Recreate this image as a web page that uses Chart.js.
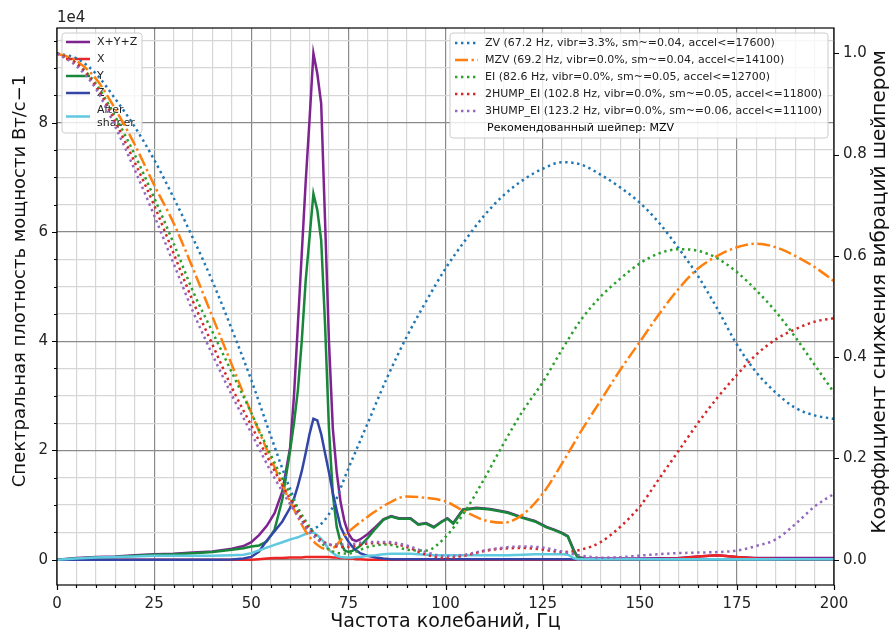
<!DOCTYPE html>
<html>
<head>
<meta charset="utf-8">
<script src="https://cdn.jsdelivr.net/npm/chart.js@4.4.1/dist/chart.umd.min.js"></script>
<style>
  html, body { margin: 0; padding: 0; background: #fff; }
  #wrap { width: 895px; height: 634px; }
</style>
</head>
<body>
<div id="wrap"><canvas id="psd" width="895" height="634"></canvas></div>
<script>
// частоты спектра, Гц
const freqs = [0, 5, 10, 15, 20, 25, 30, 35, 40, 45,
  48, 50, 52, 54, 56, 58, 60, 61, 62, 63,
  64, 65, 66, 67, 68, 69, 70, 71, 72, 73,
  74, 75, 76, 77, 78, 80, 82, 84, 86, 88,
  91, 93, 95, 97, 99, 100.5, 102, 104.5, 108, 111.5,
  116, 120, 123, 126, 128, 130, 131.5, 133, 134, 136,
  140, 150, 160, 165, 170, 175, 180, 190, 200];

// PSD, x1e4
const psdXYZ = [0, .03, .05, .06, .08, .1, .11, .13, .15, .2,
  .25, .32, .45, .62, .85, 1.25, 2.05, 3.0, 4.3, 5.6,
  6.9, 8.05, 9.27, 8.9, 8.35, 6.2, 4.0, 2.4, 1.6, 1.05,
  .7, .48, .37, .34, .37, .47, .6, .74, .8, .76,
  .76, .65, .67, .6, .7, .76, .67, .92, .95, .93,
  .87, .77, .71, .6, .55, .49, .43, .18, .05, .02,
  .02, .02, .03, .06, .08, .05, .03, .03, .03];
const psdX = [0, 0, 0, 0, 0, 0, 0, 0, 0, 0,
  0, 0, .01, .02, .03, .03, .04, .04, .04, .04,
  .05, .05, .05, .05, .05, .05, .05, .04, .04, .03,
  .03, .02, .02, .01, .01, 0, 0, 0, 0, 0,
  0, 0, 0, 0, 0, 0, 0, 0, 0, 0,
  0, 0, 0, 0, 0, 0, 0, 0, 0, 0,
  0, 0, .02, .06, .08, .05, .02, 0, 0];
const psdY = [0, .02, .04, .05, .07, .09, .1, .12, .14, .18,
  .21, .24, .26, .33, .55, 1.1, 2.0, 2.5, 3.1, 4.0,
  5.1, 5.9, 6.7, 6.4, 5.85, 4.3, 2.4, 1.2, .6, .32,
  .17, .14, .16, .2, .25, .4, .57, .73, .79, .75,
  .75, .64, .66, .59, .69, .75, .66, .91, .94, .92,
  .86, .76, .7, .59, .54, .48, .42, .16, .04, .01,
  .01, .01, .01, .01, .01, .01, .01, .01, .01];
const psdZ = [0, 0, 0, 0, 0, 0, 0, 0, 0, .005,
  .02, .05, .15, .35, .52, .7, .95, 1.12, 1.35, 1.62,
  1.95, 2.3, 2.58, 2.55, 2.3, 1.95, 1.6, 1.22, .9, .6,
  .45, .33, .24, .17, .12, .07, .04, .02, .01, .01,
  .01, .01, .01, .01, .01, .01, .01, .01, .01, .01,
  .01, .01, .01, .01, .01, .01, .01, .01, .01, .01,
  .01, .01, .01, .01, .01, .01, .01, .01, .01];
const psdAfter = [0, .02, .04, .05, .06, .07, .07, .07, .07, .08,
  .09, .12, .17, .22, .27, .32, .37, .39, .41, .44,
  .47, .49, .5, .45, .38, .3, .18, .12, .07, .05,
  .04, .04, .04, .05, .05, .07, .08, .1, .11, .11,
  .11, .1, .09, .08, .08, .08, .08, .08, .08, .08,
  .08, .09, .1, .1, .1, .1, .09, .03, .01, .01,
  .01, .01, .01, .01, .01, .01, .01, .01, .01];

const psdLabels = ['X+Y+Z', 'X', 'Y', 'Z', 'After\nshaper'];
const psdColors = ['#7e2390', '#ec2424', '#19873a', '#3346a8', '#5fc9df'];

// отклик шейперов
const shaperFreqs = [0, 5, 10, 15, 20, 25, 30, 35, 40, 45,
  50, 55, 60, 65, 70, 75, 80, 85, 90, 95,
  100, 105, 110, 115, 120, 125, 130, 135, 140, 145,
  150, 155, 160, 165, 170, 175, 180, 185, 190, 195, 200];
const zv = [1.0, .99, .96, .91, .855, .79, .715, .635, .55, .455,
  .355, .245, .14, .06, .09, .18, .27, .36, .44, .51,
  .575, .63, .68, .72, .75, .772, .785, .78, .76, .735,
  .705, .665, .615, .56, .495, .425, .37, .33, .30, .285, .278];
const mzv = [1.0, .985, .95, .89, .82, .74, .665, .575, .48, .385,
  .29, .2, .115, .045, .02, .055, .085, .11, .125, .122,
  .115, .095, .078, .073, .09, .13, .19, .255, .315, .375,
  .43, .485, .535, .575, .6, .617, .624, .617, .6, .578, .55];
const ei = [1.0, .98, .94, .875, .80, .715, .625, .53, .45, .37,
  .29, .207, .13, .065, .02, .012, .025, .03, .02, .018,
  .045, .095, .16, .23, .295, .35, .415, .475, .52, .555,
  .585, .605, .613, .61, .595, .568, .532, .49, .44, .385, .33];
const hump2 = [1.0, .98, .935, .865, .785, .70, .605, .51, .425, .34,
  .265, .19, .12, .06, .03, .025, .032, .033, .025, .01,
  .003, .008, .017, .022, .023, .02, .015, .02, .035, .065,
  .105, .16, .215, .27, .32, .365, .405, .435, .455, .47, .477];
const hump3 = [1.0, .975, .93, .855, .77, .68, .585, .49, .405, .325,
  .25, .175, .11, .055, .03, .03, .035, .035, .028, .015,
  .007, .01, .018, .024, .026, .024, .016, .008, .004, .005,
  .008, .011, .013, .014, .015, .018, .027, .04, .07, .105, .13];

const shaperLabels = [
  'ZV (67.2 Hz, vibr=3.3%, sm~=0.04, accel<=17600)',
  'MZV (69.2 Hz, vibr=0.0%, sm~=0.04, accel<=14100)',
  'EI (82.6 Hz, vibr=0.0%, sm~=0.05, accel<=12700)',
  '2HUMP_EI (102.8 Hz, vibr=0.0%, sm~=0.05, accel<=11800)',
  '3HUMP_EI (123.2 Hz, vibr=0.0%, sm~=0.06, accel<=11100)'];
const shaperColors = ['#1f77b4', '#ff7f0e', '#2ca02c', '#d62728', '#9467bd'];
const recommended = 'Рекомендованный шейпер: MZV';

// подписи осей
const xTicks = [0, 25, 50, 75, 100, 125, 150, 175, 200];
const yTicks = [0, 2, 4, 6, 8];
const y2Ticks = [0, 0.2, 0.4, 0.6, 0.8, 1.0];
const psdMax = 9.27;
const yTitle = 'Спектральная плотность мощности Вт/с−1';
const y2Title = 'Коэффициент снижения вибраций шейпером';

const xMinor = [];
for (let f = 0; f <= 200; f += 5) xMinor.push(f);
const yMinor = [];
for (let v = 0; v <= 9.5; v += 0.5) yMinor.push(v);

const dotted = [2.4, 3.6];
const dashdot = [13, 3.5, 2.4, 3.5];

const psdSeries = [psdXYZ, psdX, psdY, psdZ, psdAfter];
const shaperSeries = [zv, mzv, ei, hump2, hump3];

const datasets = [];
psdSeries.forEach((arr, i) => {
  datasets.push({
    label: psdLabels[i],
    data: freqs.map((f, k) => ({ x: f, y: arr[k] })),
    borderColor: psdColors[i],
    borderWidth: 2.5,
    pointRadius: 0,
    tension: 0,
    yAxisID: 'y',
    order: 20 - i
  });
});
shaperSeries.forEach((arr, i) => {
  datasets.push({
    label: shaperLabels[i],
    data: shaperFreqs.map((f, k) => ({ x: f, y: arr[k] })),
    borderColor: shaperColors[i],
    borderWidth: 2.5,
    borderDash: i === 1 ? dashdot : dotted,
    pointRadius: 0,
    cubicInterpolationMode: 'monotone',
    yAxisID: 'y2',
    order: 10 - i
  });
});

function legendFrame(ctx, x, y, w, h) {
  ctx.save();
  ctx.beginPath();
  ctx.roundRect(x, y, w, h, 3);
  ctx.fillStyle = 'rgba(255,255,255,0.8)';
  ctx.fill();
  ctx.strokeStyle = '#cccccc';
  ctx.lineWidth = 1;
  ctx.stroke();
  ctx.restore();
}

function handle(ctx, ds, x0, x1, y) {
  ctx.save();
  ctx.strokeStyle = ds.borderColor;
  ctx.lineWidth = ds.borderWidth;
  ctx.setLineDash(ds.borderDash || []);
  ctx.beginPath();
  ctx.moveTo(x0, y);
  ctx.lineTo(x1, y);
  ctx.stroke();
  ctx.restore();
}

function vText(ctx, text, x, y, size, angle) {
  ctx.save();
  ctx.translate(x, y);
  ctx.rotate(angle);
  ctx.font = size + 'px "DejaVu Sans"';
  ctx.fillStyle = '#111';
  ctx.textAlign = 'center';
  ctx.textBaseline = 'middle';
  ctx.fillText(text, 0, 0);
  ctx.restore();
}

const decor = {
  id: 'decor',
  afterDatasetDraw(chart, args) {
    // легенда спектров лежит под кривыми шейперов
    if (args.index !== psdLabels.length - 1) return;
    const ctx = chart.ctx;
    legendFrame(ctx, 62, 33, 80, 100);
    const rows = [42, 59, 76, 93, 116.5];
    ctx.save();
    ctx.font = '11px "DejaVu Sans"';
    ctx.fillStyle = '#222';
    ctx.textBaseline = 'middle';
    psdLabels.forEach((lab, i) => {
      handle(ctx, chart.data.datasets[i], 66, 90, rows[i]);
      const lines = lab.split('\n');
      lines.forEach((t, k) => {
        ctx.fillText(t, 97, rows[i] - (lines.length - 1) * 6.5 + k * 13);
      });
    });
    ctx.restore();
  },
  afterDraw(chart) {
    const ctx = chart.ctx;
    const a = chart.chartArea;
    const sx = chart.scales.x, sy = chart.scales.y, sy2 = chart.scales.y2;
    ctx.save();
    // рамка
    ctx.strokeStyle = '#000';
    ctx.lineWidth = 1.2;
    ctx.strokeRect(a.left, a.top, a.right - a.left, a.bottom - a.top);
    // засечки
    ctx.beginPath();
    xMinor.forEach(v => {
      const p = Math.round(sx.getPixelForValue(v)) + 0.5;
      const len = xTicks.includes(v) ? 5 : 3;
      ctx.moveTo(p, a.bottom);
      ctx.lineTo(p, a.bottom + len);
    });
    yMinor.forEach(v => {
      const p = Math.round(sy.getPixelForValue(v)) + 0.5;
      const len = yTicks.includes(v) ? 5 : 3;
      ctx.moveTo(a.left, p);
      ctx.lineTo(a.left - len, p);
    });
    y2Ticks.forEach(v => {
      const p = Math.round(sy2.getPixelForValue(v)) + 0.5;
      ctx.moveTo(a.right, p);
      ctx.lineTo(a.right + 5, p);
    });
    ctx.stroke();
    // множитель левой оси
    ctx.font = '15px "DejaVu Sans"';
    ctx.fillStyle = '#222';
    ctx.textBaseline = 'middle';
    ctx.fillText('1e4', 57, 18);
    ctx.restore();

    // подписи осей Y
    vText(ctx, yTitle, 20, 281, 18, -Math.PI / 2);
    vText(ctx, y2Title, 880, 292, 20, -Math.PI / 2);

    // легенда шейперов
    legendFrame(ctx, 450, 33, 378, 105);
    const rows = [43, 60, 77, 94, 111];
    ctx.save();
    ctx.font = '11px "DejaVu Sans"';
    ctx.fillStyle = '#222';
    ctx.textBaseline = 'middle';
    shaperLabels.forEach((lab, i) => {
      handle(ctx, chart.data.datasets[psdLabels.length + i], 455, 478, rows[i]);
      ctx.fillText(lab, 485, rows[i]);
    });
    ctx.fillStyle = '#000';
    ctx.fillText(recommended, 487, 128);
    ctx.restore();
  }
};

Chart.defaults.font.family = 'DejaVu Sans';
Chart.defaults.color = '#222';

new Chart(document.getElementById('psd'), {
  type: 'line',
  data: { datasets: datasets },
  options: {
    responsive: false,
    animation: false,
    events: [],
    layout: { padding: { top: 28, left: 0, right: 0, bottom: 0 } },
    plugins: { legend: { display: false }, tooltip: { enabled: false } },
    scales: {
      x: {
        type: 'linear', min: 0, max: 200,
        afterBuildTicks: s => { s.ticks = xMinor.map(v => ({ value: v })); },
        afterFit: s => { s.height = 49; },
        ticks: {
          autoSkip: false, maxRotation: 0, padding: 10,
          font: { size: 15 },
          callback: v => xTicks.includes(v) ? String(v) : ''
        },
        grid: {
          drawTicks: false, lineWidth: 1.2,
          color: c => (c.tick && c.tick.value % 25 === 0) ? '#8a8a8a' : '#d6d6d6'
        },
        border: { display: false },
        title: {
          display: true, text: 'Частота колебаний, Гц',
          font: { size: 19 }, color: '#111', padding: { top: 0, bottom: 1 }
        }
      },
      y: {
        type: 'linear', position: 'left',
        min: -0.05 * psdMax, max: 1.05 * psdMax,
        afterBuildTicks: s => { s.ticks = yMinor.map(v => ({ value: v })); },
        afterFit: s => { s.width = 57; },
        ticks: {
          autoSkip: false, padding: 9,
          font: { size: 15 },
          callback: v => yTicks.includes(v) ? String(v) : ''
        },
        grid: {
          drawTicks: false, lineWidth: 1.2,
          color: c => (c.tick && c.tick.value % 2 === 0) ? '#8a8a8a' : '#d6d6d6'
        },
        border: { display: false }
      },
      y2: {
        type: 'linear', position: 'right',
        min: -0.05, max: 1.05,
        afterBuildTicks: s => { s.ticks = y2Ticks.map(v => ({ value: v })); },
        afterFit: s => { s.width = 61; },
        ticks: {
          autoSkip: false, padding: 9,
          font: { size: 15 },
          callback: v => v.toFixed(1)
        },
        grid: { drawOnChartArea: false, drawTicks: false },
        border: { display: false }
      }
    }
  },
  plugins: [decor]
});
</script>
</body>
</html>
